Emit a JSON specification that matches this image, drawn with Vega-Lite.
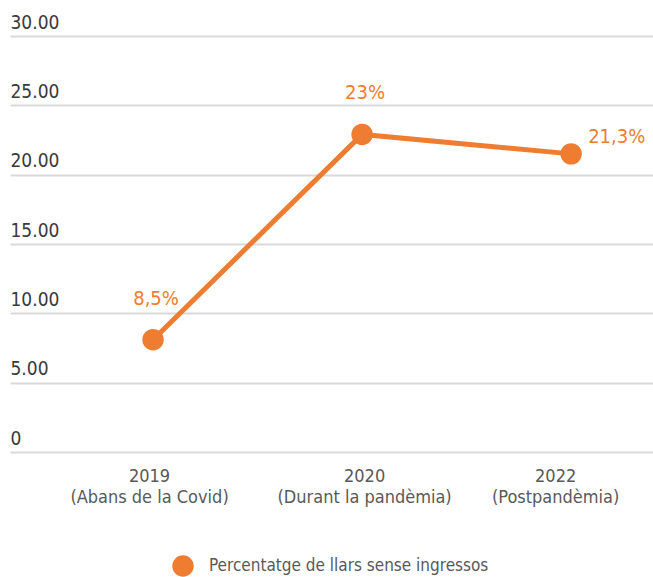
{
  "$schema": "https://vega.github.io/schema/vega-lite/v6.json",
  "width": 643,
  "height": 416,
  "autosize": {"type": "none"},
  "padding": {"left": 10, "top": 36, "right": 0, "bottom": 125},
  "background": "white",
  "config": {
    "view": {"stroke": null},
    "font": "DejaVu Sans Condensed, Roboto, sans-serif",
    "axis": {"labelFont": "DejaVu Sans Condensed, Roboto, sans-serif", "titleFont": "DejaVu Sans Condensed, Roboto, sans-serif"},
    "legend": {"labelFont": "DejaVu Sans Condensed, Roboto, sans-serif"}
  },
  "data": {
    "values": [
      {"period": "2019|(Abans de la Covid)", "value": 8.1, "label": "8,5%", "series": "Percentatge de llars sense ingressos", "pos": "above"},
      {"period": "2020|(Durant la pandèmia)", "value": 22.9, "label": "23%", "series": "Percentatge de llars sense ingressos", "pos": "above"},
      {"period": "2022|(Postpandèmia)", "value": 21.5, "label": "21,3%", "series": "Percentatge de llars sense ingressos", "pos": "right"}
    ]
  },
  "encoding": {
    "x": {
      "field": "period",
      "type": "ordinal",
      "sort": null,
      "scale": {"type": "point", "padding": 0.538, "align": 0.636},
      "axis": {
        "title": null,
        "domain": false,
        "ticks": false,
        "grid": false,
        "labelAngle": 0,
        "labelExpr": "split(datum.value, '|')",
        "labelFontSize": 18,
        "labelLimit": 400,
        "labelColor": "#595959",
        "labelPadding": 15,
        "labelLineHeight": 21,
        "labelBaseline": "top",
        "labelOffset": {
          "condition": [
            {"test": "indexof(datum.value, '2022') >= 0", "value": -16},
            {"test": "indexof(datum.value, '2019') >= 0", "value": -4}
          ],
          "value": 2
        }
      }
    },
    "y": {
      "field": "value",
      "type": "quantitative",
      "scale": {"domain": [0, 30], "nice": false},
      "axis": {
        "title": null,
        "domain": false,
        "ticks": false,
        "values": [0, 5, 10, 15, 20, 25, 30],
        "grid": true,
        "gridColor": "#d9d9d9",
        "gridWidth": 2,
        "labelExpr": "datum.value == 0 ? '0' : format(datum.value, '.2f')",
        "labelAlign": "left",
        "labelBaseline": "alphabetic",
        "labelPadding": 0,
        "labelOffset": -8,
        "labelFontSize": 19,
        "labelColor": "#3a3a3a"
      }
    }
  },
  "layer": [
    {
      "mark": {"type": "line", "color": "#EE7D31", "strokeWidth": 5}
    },
    {
      "mark": {"type": "point", "filled": true, "opacity": 1, "size": 460},
      "encoding": {
        "color": {
          "field": "series",
          "type": "nominal",
          "scale": {"range": ["#EE7D31"]},
          "legend": {
            "title": null,
            "orient": "none",
            "legendX": 162,
            "legendY": 519,
            "padding": 0,
            "symbolType": "circle",
            "symbolSize": 460,
            "symbolStrokeWidth": 0,
            "labelFontSize": 17,
            "labelLimit": 500,
            "labelColor": "#595959",
            "labelOffset": 15
          }
        }
      }
    },
    {
      "transform": [{"filter": "datum.pos == 'above'"}],
      "mark": {"type": "text", "align": "center", "baseline": "alphabetic", "dy": -35, "dx": 3, "fontSize": 20, "color": "#EE7D31"},
      "encoding": {"text": {"field": "label"}}
    },
    {
      "transform": [{"filter": "datum.pos == 'right'"}],
      "mark": {"type": "text", "align": "left", "baseline": "alphabetic", "dy": -11, "dx": 17, "fontSize": 20, "color": "#EE7D31"},
      "encoding": {"text": {"field": "label"}}
    }
  ]
}
